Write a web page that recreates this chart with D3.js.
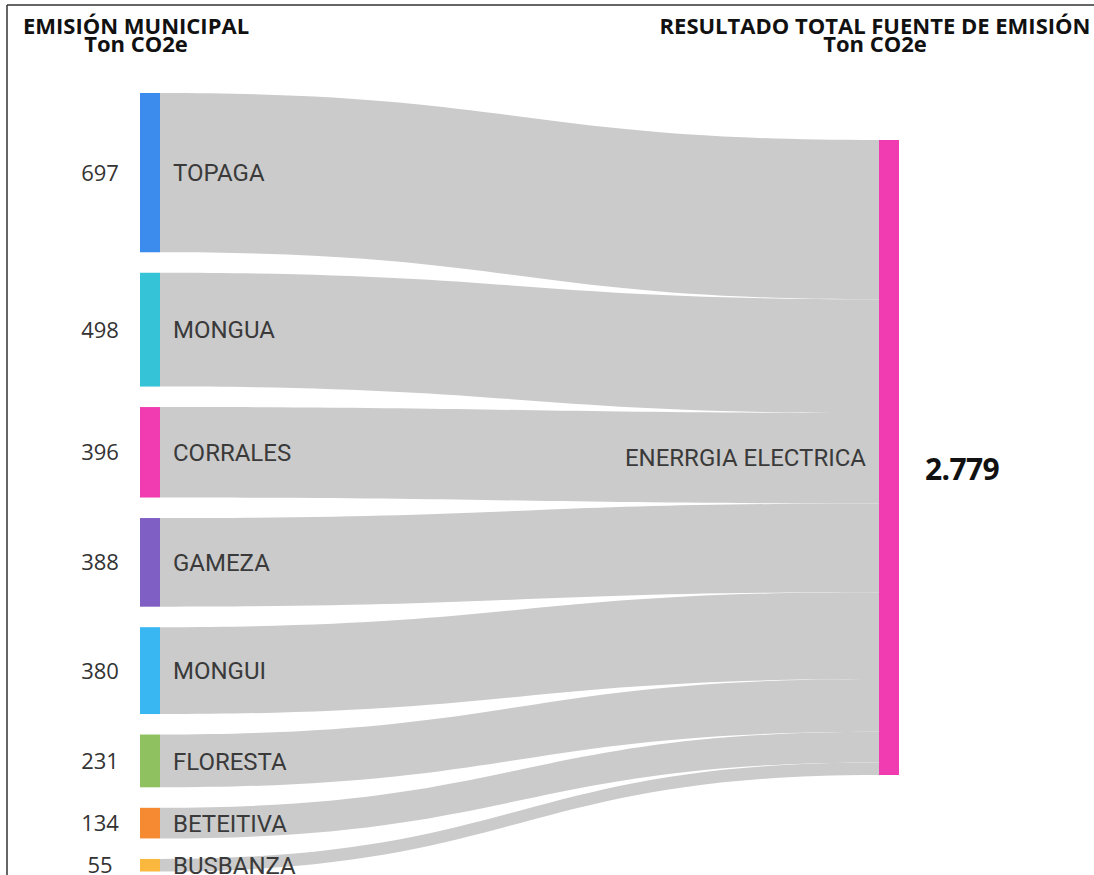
<!DOCTYPE html>
<html>
<head>
<meta charset="utf-8">
<script src="https://cdn.jsdelivr.net/npm/d3@7"></script>
<style>
  html, body { margin: 0; padding: 0; background: #fff; }
  svg { display: block; }
</style>
</head>
<body>
<svg id="chart" width="1094" height="875"></svg>
<script>
// Municipal emissions (Ton CO2e) flowing into one emission source
const municipios = ["TOPAGA", "MONGUA", "CORRALES", "GAMEZA", "MONGUI", "FLORESTA", "BETEITIVA", "BUSBANZA"];
const emisiones = [697, 498, 396, 388, 380, 231, 134, 55];
const colores = ["#3b8ced", "#35c4d7", "#f03cb0", "#7f5fc4", "#38b7f2", "#8fc160", "#f58a33", "#fbb83f"];
const fuente = "ENERRGIA ELECTRICA";
const colorFuente = "#f03cb0";
const tituloIzq = ["EMISIÓN MUNICIPAL", "Ton CO2e"];
const tituloDer = ["RESULTADO TOTAL FUENTE DE EMISIÓN", "Ton CO2e"];

const total = d3.sum(emisiones);
const fmt = d3.formatLocale({ decimal: ",", thousands: ".", grouping: [3], currency: ["", ""] }).format(",d");

const svg = d3.select("#chart");

// frame lines (top and left)
svg.append("line").attr("x1", 7).attr("y1", 5).attr("x2", 1094).attr("y2", 5)
  .attr("stroke", "#333").attr("stroke-width", 1.5);
svg.append("line").attr("x1", 7).attr("y1", 5).attr("x2", 7).attr("y2", 875)
  .attr("stroke", "#333").attr("stroke-width", 1.5);

// layout
const nodeW = 20;
const xLeft = 140, xRight = 879;
const gap = 20.5;
const top0 = 93, topRight = 140;
const k = d3.scaleLinear().domain([0, total]).range([0, 635]);

let y = top0, yr = topRight;
const nodes = emisiones.map((v, i) => {
  const h = k(v);
  const n = { name: municipios[i], value: v, color: colores[i], y0: y, y1: y + h, ty0: yr, ty1: yr + h };
  y += h + gap;
  yr += h;
  return n;
});
const rightNode = { y0: topRight, y1: topRight + k(total) };

// links as horizontal bezier bands
function band(d) {
  const x0 = xLeft + nodeW, x1 = xRight, xm = (x0 + x1) / 2;
  const p = d3.path();
  p.moveTo(x0, d.y0);
  p.bezierCurveTo(xm, d.y0, xm, d.ty0, x1, d.ty0);
  p.lineTo(x1, d.ty1);
  p.bezierCurveTo(xm, d.ty1, xm, d.y1, x0, d.y1);
  p.closePath();
  return p.toString();
}

svg.append("g").selectAll("path").data(nodes).join("path")
  .attr("d", band)
  .attr("fill", "#cbcbcb");

// source nodes
svg.append("g").selectAll("rect").data(nodes).join("rect")
  .attr("x", xLeft).attr("y", d => d.y0)
  .attr("width", nodeW).attr("height", d => d.y1 - d.y0)
  .attr("fill", d => d.color);

// target node
svg.append("rect")
  .attr("x", xRight).attr("y", rightNode.y0)
  .attr("width", nodeW).attr("height", rightNode.y1 - rightNode.y0)
  .attr("fill", colorFuente);

// node names
svg.append("g").selectAll("text").data(nodes).join("text")
  .attr("x", xLeft + nodeW + 13)
  .attr("y", d => (d.y0 + d.y1) / 2)
  .attr("dy", "0.36em")
  .attr("font-family", "Roboto, sans-serif")
  .attr("font-size", 24)
  .attr("fill", "#3a3a3a")
  .text(d => d.name);

// values
svg.append("g").selectAll("text").data(nodes).join("text")
  .attr("x", 100)
  .attr("y", d => (d.y0 + d.y1) / 2)
  .attr("dy", "0.36em")
  .attr("text-anchor", "middle")
  .attr("font-family", "'Open Sans', sans-serif")
  .attr("font-size", 22)
  .attr("fill", "#333")
  .text(d => fmt(d.value));

// target labels
const rc = (rightNode.y0 + rightNode.y1) / 2;
svg.append("text")
  .attr("x", xRight - 13).attr("y", rc).attr("dy", "0.36em")
  .attr("text-anchor", "end")
  .attr("font-family", "Roboto, sans-serif")
  .attr("font-size", 24)
  .attr("fill", "#3a3a3a")
  .text(fuente);

svg.append("text")
  .attr("x", 925).attr("y", rc + 12).attr("dy", "0.36em")
  .attr("font-family", "'Open Sans', sans-serif")
  .attr("font-weight", "bold")
  .attr("font-size", 30)
  .attr("letter-spacing", -0.6)
  .attr("fill", "#111")
  .text(fmt(total));

// column titles
function titulo(lines, cx) {
  const t = svg.append("text")
    .attr("text-anchor", "middle")
    .attr("font-family", "'Open Sans', sans-serif")
    .attr("font-weight", "bold")
    .attr("font-size", 22)
    .attr("fill", "#111");
  lines.forEach((s, i) => {
    t.append("tspan").attr("x", cx).attr("y", 34 + i * 18).text(s);
  });
}
titulo(tituloIzq, 136);
titulo(tituloDer, 875);
</script>
</body>
</html>
